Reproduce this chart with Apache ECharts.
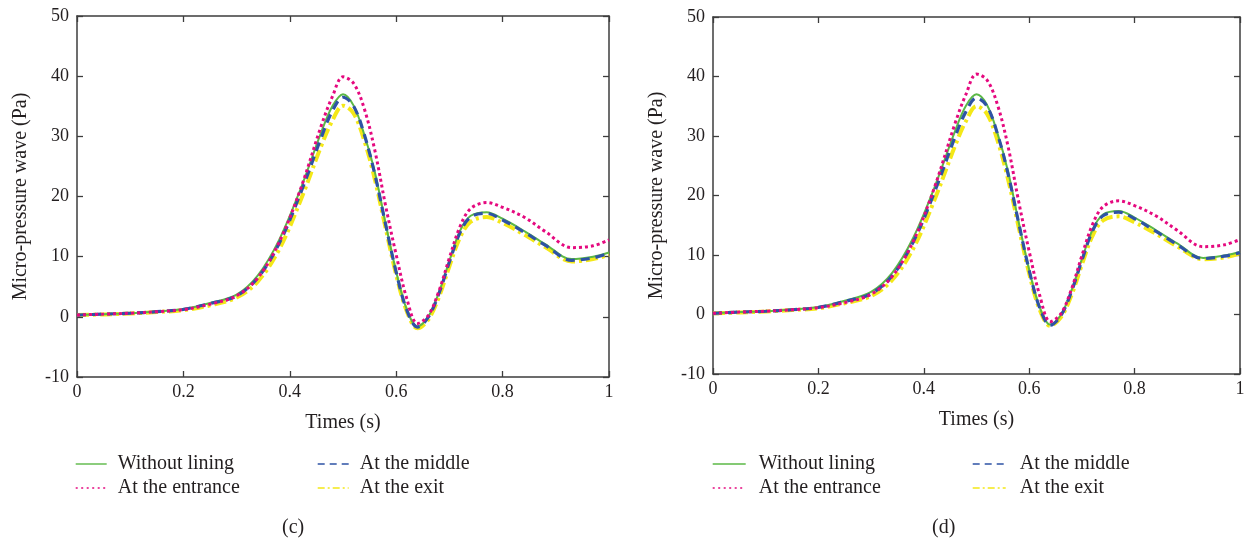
<!DOCTYPE html>
<html>
<head>
<meta charset="utf-8">
<title>Micro-pressure wave</title>
<script src="https://cdn.jsdelivr.net/npm/echarts@6/dist/echarts.min.js"></script>
<style>
  html, body { margin: 0; padding: 0; background: #ffffff; }
  #chart { width: 1250px; height: 544px; }
</style>
</head>
<body>
<div id="chart"></div>
<script>
// Sample times (s), shared by every curve
var timeS = [0, 0.05, 0.1, 0.15, 0.2, 0.25, 0.3, 0.34, 0.38, 0.42, 0.46, 0.48, 0.5, 0.52, 0.54, 0.56,
             0.58, 0.6, 0.62, 0.64, 0.66, 0.68, 0.7, 0.72, 0.74, 0.77, 0.8, 0.84, 0.88, 0.93, 0.97, 1.0];

// Panel (c): micro-pressure wave (Pa)
var cWithout  = [0.3, 0.45, 0.6, 0.9, 1.3, 2.3, 3.7, 6.9, 12.8, 21.2, 30.9, 35.0, 37.0, 35.1, 30.3, 24.0,
                 15.5, 7.5, 1.2, -1.6, 0.0, 4.0, 9.3, 14.3, 16.8, 17.4, 16.3, 14.3, 12.1, 9.6, 10.0, 10.7];
var cEntrance = [0.3, 0.45, 0.6, 0.85, 1.2, 2.1, 3.5, 6.5, 12.4, 21.2, 32.0, 36.6, 39.9, 38.8, 34.6, 27.6,
                 18.5, 10.3, 3.0, -1.1, 0.2, 4.2, 9.8, 15.0, 18.0, 19.0, 18.2, 16.6, 14.2, 11.5, 11.8, 12.8];
var cMiddle   = [0.3, 0.45, 0.6, 0.85, 1.25, 2.2, 3.5, 6.5, 12.2, 20.5, 30.0, 34.2, 36.5, 35.0, 30.3, 23.6,
                 15.4, 7.4, 1.1, -1.7, -0.1, 3.8, 9.1, 14.0, 16.6, 17.2, 16.1, 14.1, 11.9, 9.4, 9.8, 10.6];
var cExit     = [0.3, 0.4, 0.55, 0.8, 1.1, 1.9, 3.2, 5.9, 11.2, 19.3, 28.6, 32.6, 35.1, 33.8, 29.3, 22.8,
                 14.8, 7.0, 0.9, -1.9, -0.5, 3.2, 8.4, 13.2, 15.8, 16.6, 15.6, 13.7, 11.6, 9.2, 9.6, 10.3];

// Panel (d): micro-pressure wave (Pa)
var dWithout  = [0.2, 0.4, 0.55, 0.85, 1.25, 2.3, 3.8, 7.0, 12.9, 21.3, 31.0, 35.1, 37.0, 35.2, 30.4, 24.0,
                 15.5, 7.5, 1.2, -1.7, -0.1, 4.0, 9.3, 14.2, 16.8, 17.4, 16.3, 14.2, 12.0, 9.5, 9.9, 10.5];
var dEntrance = [0.2, 0.4, 0.55, 0.8, 1.15, 2.0, 3.4, 6.4, 12.3, 21.3, 32.3, 37.0, 40.4, 39.4, 35.2, 28.2,
                 19.0, 10.6, 3.2, -1.2, 0.1, 4.2, 9.9, 15.1, 18.1, 19.1, 18.3, 16.6, 14.2, 11.4, 11.7, 12.6];
var dMiddle   = [0.2, 0.4, 0.55, 0.8, 1.2, 2.2, 3.5, 6.5, 12.2, 20.5, 30.0, 34.1, 36.4, 35.0, 30.3, 23.6,
                 15.4, 7.4, 1.1, -1.8, -0.2, 3.8, 9.1, 14.0, 16.6, 17.2, 16.1, 14.0, 11.8, 9.4, 9.8, 10.4];
var dExit     = [0.2, 0.35, 0.5, 0.75, 1.05, 1.9, 3.1, 5.8, 11.1, 19.2, 28.5, 32.5, 35.0, 33.7, 29.2, 22.7,
                 14.7, 6.9, 0.8, -1.9, -0.5, 3.2, 8.4, 13.2, 15.8, 16.5, 15.5, 13.6, 11.5, 9.3, 9.6, 10.3];

var xTicks = { min: 0, max: 1, interval: 0.2 };
var yTicks = { min: -10, max: 50, interval: 10 };
var panelLabels = ['(c)', '(d)'];
var seriesNames = ['Without lining', 'At the entrance', 'At the middle', 'At the exit'];

var FONT = '"Liberation Serif", "DejaVu Serif", serif';
var INK = '#231f20';
var AXIS = '#3d3d3d';

var styles = {
  'Without lining':  { color: '#5bb846', width: 2,   type: 'solid',        legendType: 'solid',        z: 3 },
  'At the entrance': { color: '#e5097f', width: 3,   type: [3, 3],         legendType: [2, 3.5],       z: 5 },
  'At the middle':   { color: '#2e53a5', width: 3.2, type: [9, 6],         legendType: [7, 5],         z: 4 },
  'At the exit':     { color: '#f4e817', width: 4,   type: [12, 4, 3, 4],  legendType: [7, 3, 2, 3],   z: 2 }
};

function pairs(values) {
  return timeS.map(function (t, i) { return [t, values[i]]; });
}

function lineSeries(name, values, panel) {
  var s = styles[name];
  return {
    name: name,
    type: 'line',
    xAxisIndex: panel * 2,
    yAxisIndex: panel * 2,
    data: pairs(values),
    smooth: 0.35,
    symbol: 'none',
    z: s.z,
    lineStyle: { color: s.color, width: s.width, type: s.type, cap: 'butt' },
    itemStyle: { color: s.color },
    emphasis: { disabled: true }
  };
}

function axisBase(extra) {
  var a = {
    type: 'value',
    axisLine: { show: true, onZero: false, lineStyle: { color: AXIS, width: 1.5 } },
    axisTick: { show: true, inside: true, length: 6, lineStyle: { color: AXIS, width: 1.3 } },
    splitLine: { show: false },
    axisLabel: { color: INK, fontFamily: FONT, fontSize: 18 }
  };
  for (var k in extra) a[k] = extra[k];
  return a;
}

var grids = [
  { left: 77, right: 641, top: 16, bottom: 167 },
  { left: 713, right: 10, top: 17, bottom: 170 }
];

var xAxes = [], yAxes = [];
grids.forEach(function (g, p) {
  xAxes.push(axisBase({
    gridIndex: p, position: 'bottom', min: xTicks.min, max: xTicks.max, interval: xTicks.interval,
    name: 'Times (s)', nameLocation: 'middle', nameGap: 36,
    nameTextStyle: { color: INK, fontFamily: FONT, fontSize: 20 },
    axisLabel: { color: INK, fontFamily: FONT, fontSize: 18, margin: 6 }
  }));
  xAxes.push(axisBase({
    gridIndex: p, position: 'top', min: xTicks.min, max: xTicks.max, interval: xTicks.interval,
    axisLabel: { show: false }
  }));
  yAxes.push(axisBase({
    gridIndex: p, position: 'left', min: yTicks.min, max: yTicks.max, interval: yTicks.interval,
    name: 'Micro-pressure wave (Pa)', nameLocation: 'middle', nameGap: 46,
    nameTextStyle: { color: INK, fontFamily: FONT, fontSize: 20 },
    axisLabel: { color: INK, fontFamily: FONT, fontSize: 18, margin: 8 }
  }));
  yAxes.push(axisBase({
    gridIndex: p, position: 'right', min: yTicks.min, max: yTicks.max, interval: yTicks.interval,
    axisLabel: { show: false }
  }));
});

var series = [];
var panelData = [
  { 'Without lining': cWithout, 'At the entrance': cEntrance, 'At the middle': cMiddle, 'At the exit': cExit },
  { 'Without lining': dWithout, 'At the entrance': dEntrance, 'At the middle': dMiddle, 'At the exit': dExit }
];
panelData.forEach(function (d, p) {
  seriesNames.forEach(function (n) { series.push(lineSeries(n, d[n], p)); });
});

// Legend keys show only the line sample, no marker
function legendItem(name) {
  var s = styles[name];
  return {
    name: name,
    itemStyle: { opacity: 0 },
    lineStyle: { color: s.color, width: 1.4, type: s.legendType }
  };
}

function legendColumn(left, names, iconW, textPad) {
  return {
    orient: 'vertical',
    left: left,
    top: 449,
    itemWidth: iconW,
    itemHeight: 14,
    itemGap: 4,
    selectedMode: false,
    data: names.map(legendItem),
    textStyle: { color: INK, fontFamily: FONT, fontSize: 20, padding: [0, 0, 0, textPad] }
  };
}

var legends = [
  legendColumn(70, ['Without lining', 'At the entrance'], 31, 6),
  legendColumn(312, ['At the middle', 'At the exit'], 31, 6),
  legendColumn(707, ['Without lining', 'At the entrance'], 33, 8),
  legendColumn(967, ['At the middle', 'At the exit'], 33, 9)
];

var chart = echarts.init(document.getElementById('chart'), null, { renderer: 'canvas' });
chart.setOption({
  backgroundColor: '#ffffff',
  animation: false,
  grid: grids,
  xAxis: xAxes,
  yAxis: yAxes,
  legend: legends,
  series: series,
  graphic: [
    { type: 'text', left: 282, top: 518, style: { text: panelLabels[0], fill: INK, font: '20px ' + FONT } },
    { type: 'text', left: 932, top: 518, style: { text: panelLabels[1], fill: INK, font: '20px ' + FONT } }
  ]
});
</script>
</body>
</html>
